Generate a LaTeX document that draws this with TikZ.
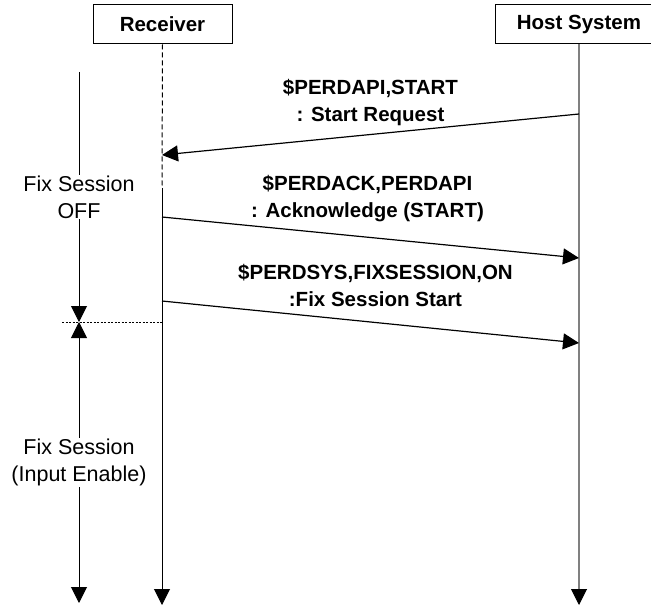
\documentclass[tikz,border=0pt]{standalone}
\usepackage{fontspec}
\setmainfont{Liberation Sans}
\usetikzlibrary{arrows.meta, positioning}

\begin{document}
\begin{tikzpicture}[x=1pt, y=1pt, >={Triangle[length=16pt, width=16pt]},
  actor/.style={rectangle, draw, line width=1pt, minimum width=139pt, minimum height=39pt,
    font=\fontsize{20.5}{27}\selectfont\bfseries},
  lifeline/.style={line width=1pt},
  msg/.style={->, line width=1.2pt},
  msglabel/.style={align=center, inner sep=0pt, text depth=0pt,
    font=\fontsize{20.5}{27}\selectfont\bfseries},
  phase/.style={fill=white, align=center, inner sep=1pt,
    font=\fontsize{21.5}{27}\selectfont}]
  \useasboundingbox (0,0) rectangle (651,-607);

  % participants
  \node[actor] (receiver) at (162.5,-24.5) {Receiver};
  \node[actor, minimum width=168pt, right=262pt of receiver] (host) {Host System};

  % points on the lifelines
  \coordinate (rswitch) at (162,-188);
  \coordinate (rend)    at (162,-605);
  \coordinate (hend)    at (host.south |- rend);
  \coordinate (hstub)   at ([yshift=16pt]hend);
  \coordinate (rsplit)  at (162,-322);
  \coordinate (r2) at (162,-155);
  \coordinate (r3) at (162,-217);
  \coordinate (r5) at (162,-301);
  \coordinate (h1) at (host.south |- 0,-114);
  \coordinate (h4) at (host.south |- 0,-258);
  \coordinate (h6) at (host.south |- 0,-343);

  % session state on the left
  \coordinate (ftop) at (79,-72);
  \coordinate (fmid) at (79,-322);
  \coordinate (fbot) at (79,-603);
  \coordinate (dotl) at (62,-322);

  % lifelines
  \draw[lifeline, dash pattern=on 5pt off 3pt] (receiver.south) -- (rswitch);
  \draw[lifeline, ->] (rswitch) -- (rend);
  \draw[line width=2pt, gray] (host.south) -- (hstub);
  \draw[lifeline, ->] (hstub) -- (hend);

  % messages
  \draw[msg] (h1) -- node[msglabel, midway, above=12.8pt] {\$PERDAPI,START\\: Start Request} (r2);
  \draw[msg] (r3) -- node[msglabel, midway, above=19pt, xshift=-3pt] {\$PERDACK,PERDAPI\\: Acknowledge (START)} (h4);
  \draw[msg] (r5) -- node[msglabel, midway, above=14.5pt, xshift=5pt] {\$PERDSYS,FIXSESSION,ON\\:Fix Session Start} (h6);

  % fix session phases
  \draw[lifeline, ->] (ftop) -- node[phase, midway] {Fix Session\\OFF} (fmid);
  \draw[lifeline, <->] (fmid) -- node[phase, midway] {Fix Session\\(Input Enable)} (fbot);
  \draw[line width=0.8pt, dash pattern=on 2pt off 1.5pt] (dotl) -- (rsplit);
\end{tikzpicture}
\end{document}
